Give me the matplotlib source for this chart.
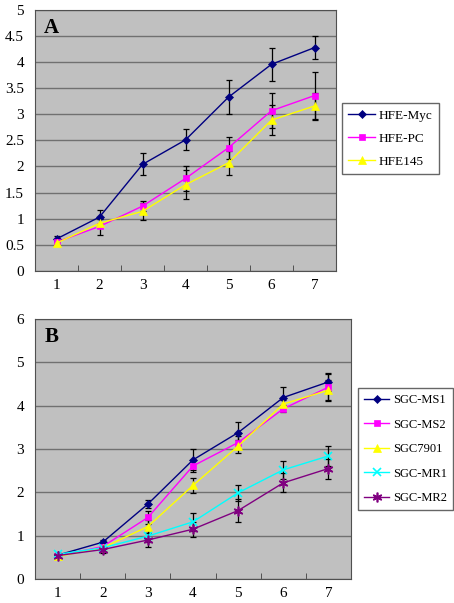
import matplotlib.pyplot as plt
import numpy as np

plt.rcParams['font.family'] = ['Liberation Serif', 'DejaVu Serif']

days = [1, 2, 3, 4, 5, 6, 7]

# panel A
a_names = ['HFE-Myc', 'HFE-PC', 'HFE145']
a_myc = [0.61, 1.03, 2.04, 2.51, 3.33, 3.96, 4.28]
a_myc_err = [0.05, 0.14, 0.21, 0.2, 0.32, 0.32, 0.22]
a_pc = [0.55, 0.85, 1.24, 1.77, 2.36, 3.07, 3.36]
a_pc_err = [0.04, 0.16, 0.1, 0.24, 0.21, 0.34, 0.46]
a_145 = [0.53, 0.91, 1.14, 1.65, 2.07, 2.89, 3.16]
a_145_err = [0.04, 0.08, 0.16, 0.28, 0.23, 0.28, 0.24]

# panel B
b_names = ['SGC-MS1', 'SGC-MS2', 'SGC7901', 'SGC-MR1', 'SGC-MR2']
b_ms1 = [0.55, 0.85, 1.73, 2.75, 3.38, 4.19, 4.55]
b_ms1_err = [0.04, 0.05, 0.1, 0.24, 0.24, 0.25, 0.21]
b_ms2 = [0.53, 0.75, 1.42, 2.61, 3.15, 3.93, 4.43]
b_ms2_err = [0.04, 0.06, 0.16, 0.14, 0.15, 0.08, 0.3]
b_7901 = [0.52, 0.72, 1.21, 2.16, 3.07, 4.04, 4.36]
b_7901_err = [0.04, 0.06, 0.15, 0.17, 0.15, 0.1, 0.24]
b_mr1 = [0.57, 0.72, 0.99, 1.32, 1.99, 2.52, 2.84]
b_mr1_err = [0.04, 0.05, 0.13, 0.21, 0.18, 0.21, 0.23]
b_mr2 = [0.54, 0.68, 0.9, 1.15, 1.58, 2.22, 2.55]
b_mr2_err = [0.04, 0.07, 0.17, 0.17, 0.27, 0.22, 0.23]

styles_a = [('#000080', 'D', 4), ('#FF00FF', 's', 5), ('#FFFF00', '^', 6)]
styles_b = [('#000080', 'D', 4), ('#FF00FF', 's', 5), ('#FFFF00', '^', 6),
            ('#00FFFF', 'x', 6), ('#800080', (6, 2, 0), 7)]

fig = plt.figure(figsize=(4.54, 6.03), dpi=100)


def draw(ax, series, errs, names, styles, ymax, step, label):
    ax.set_facecolor('#C0C0C0')
    for y, e, n, (c, m, ms) in zip(series, errs, names, styles):
        ax.errorbar(days, y, yerr=e, fmt='none', ecolor='black', elinewidth=0.9,
                    capsize=2.5, capthick=0.9, zorder=2)
        ax.plot(days, y, color=c, marker=m, markersize=ms, lw=1, label=n,
                markeredgewidth=1.2 if m in ('x', (6, 2, 0)) else 0.5, zorder=3)
    ax.set_xlim(0.5, 7.5)
    ax.set_ylim(0, ymax)
    ax.set_yticks(np.arange(0, ymax + 0.01, step))
    ax.set_yticklabels([('%g' % v) for v in np.arange(0, ymax + 0.01, step)])
    ax.set_xticks(days)
    ax.set_xticks(np.arange(1.5, 7, 1), minor=True)
    ax.tick_params(axis='x', which='major', length=0, labelsize=11, pad=6)
    ax.tick_params(axis='x', which='minor', direction='in', length=4, color='#404040')
    ax.tick_params(axis='y', length=0, labelsize=11, pad=8)
    ax.yaxis.grid(True, color='#707070', lw=1)
    ax.set_axisbelow(True)
    for s in ax.spines.values():
        s.set_color('#505050')
    ax.text(0.03, 0.97, label, transform=ax.transAxes, fontsize=15,
            fontweight='bold', va='top', ha='left')


ax1 = fig.add_axes([0.0771, 0.551, 0.663, 0.4323])
draw(ax1, [a_myc, a_pc, a_145], [a_myc_err, a_pc_err, a_145_err],
     a_names, styles_a, 5, 0.5, 'A')
ax1.legend(loc='upper left', bbox_to_anchor=(0.753, 0.829), bbox_transform=fig.transFigure,
           frameon=True, fancybox=False, edgecolor='#404040', fontsize=9.5,
           handlelength=2.0, borderpad=0.5, labelspacing=0.8, handletextpad=0.3,
           borderaxespad=0)

ax2 = fig.add_axes([0.0771, 0.0398, 0.696, 0.431])
draw(ax2, [b_ms1, b_ms2, b_7901, b_mr1, b_mr2],
     [b_ms1_err, b_ms2_err, b_7901_err, b_mr1_err, b_mr2_err],
     b_names, styles_b, 6, 1, 'B')
ax2.legend(loc='upper left', bbox_to_anchor=(0.789, 0.3566), bbox_transform=fig.transFigure,
           frameon=True, fancybox=False, edgecolor='#404040', fontsize=9,
           handlelength=2.0, borderpad=0.5, labelspacing=1.0, handletextpad=0.3,
           borderaxespad=0)

plt.savefig('out.png', dpi=100)
